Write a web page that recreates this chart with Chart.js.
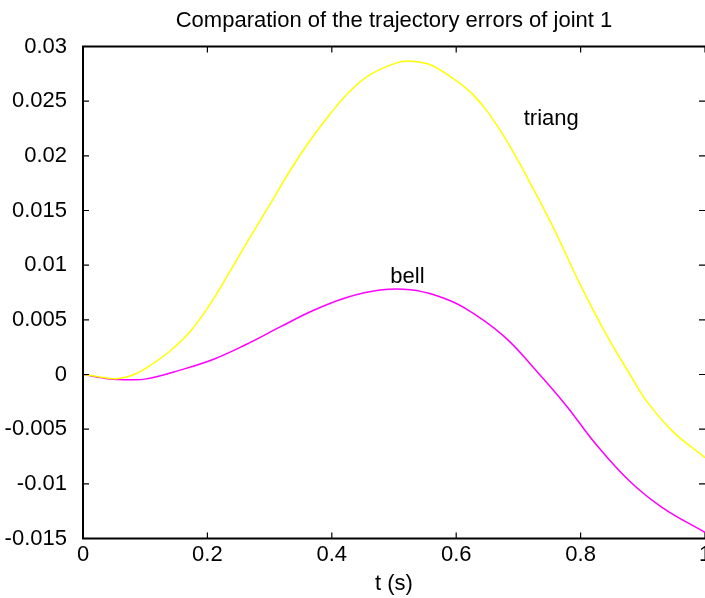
<!DOCTYPE html>
<html>
<head>
<meta charset="utf-8">
<script src="https://cdn.jsdelivr.net/npm/chart.js@4"></script>
<style>
  html, body { margin: 0; padding: 0; background: #fff; }
  canvas { display: block; }
</style>
</head>
<body>
<canvas id="c" width="705" height="598"></canvas>
<script>
// ---- data ----
const titleText = "Comparation of the trajectory errors of joint 1";
const xTitle = "t (s)";

const triangT = [0, 0.025, 0.054, 0.08, 0.102, 0.139, 0.172, 0.204, 0.236, 0.268, 0.301, 0.333, 0.365, 0.397, 0.429, 0.461, 0.504, 0.526, 0.555, 0.584, 0.627, 0.670, 0.713, 0.756, 0.799, 0.841, 0.884, 0.906, 0.948, 1.0];
const triangV = [0, -0.0002, -0.00038, -0.00005, 0.0006, 0.0021, 0.0039, 0.0064, 0.0094, 0.0125, 0.0156, 0.01866, 0.0214, 0.0238, 0.0259, 0.0274, 0.0285, 0.02866, 0.0284, 0.0275, 0.0256, 0.0224, 0.01815, 0.01346, 0.00827, 0.00369, -0.00044, -0.00243, -0.0052, -0.0076];

const bellT = [0, 0.02, 0.043, 0.07, 0.102, 0.156, 0.21, 0.263, 0.317, 0.370, 0.424, 0.478, 0.526, 0.569, 0.612, 0.676, 0.729, 0.777, 0.825, 0.879, 0.932, 1.0];
const bellV = [0, -0.0002, -0.00042, -0.00048, -0.0004, 0.0004, 0.0014, 0.00277, 0.00435, 0.00585, 0.00704, 0.00772, 0.00775, 0.0072, 0.00613, 0.00353, 0.00032, -0.00285, -0.0064, -0.00977, -0.0122, -0.01444];

const seriesNames = ["triang", "bell"];
// label anchor points (data coordinates)
const labelT = [0.7085, 0.494];
const labelV = [0.0228, 0.0084];

const xTicks = [0, 0.2, 0.4, 0.6, 0.8, 1];
const xTickLabels = ["0", "0.2", "0.4", "0.6", "0.8", "1"];
const yTicks = [-0.015, -0.01, -0.005, 0, 0.005, 0.01, 0.015, 0.02, 0.025, 0.03];
const yTickLabels = ["-0.015", "-0.01", "-0.005", "0", "0.005", "0.01", "0.015", "0.02", "0.025", "0.03"];

// ---- chart ----
const FONT = '"Liberation Sans", Arial, Helvetica, sans-serif';
Chart.defaults.font.family = FONT;
Chart.defaults.color = '#000';

const toXY = (ts, vs) => ts.map((t, i) => ({ x: t, y: vs[i] }));

const framePlugin = {
  id: 'frame',
  afterDatasetsDraw(chart) {
    const ctx = chart.ctx;
    const xs = chart.scales.x, ys = chart.scales.y;
    const L = xs.getPixelForValue(0), R = xs.getPixelForValue(1);
    const T = ys.getPixelForValue(0.03), B = ys.getPixelForValue(-0.015);
    ctx.save();
    ctx.strokeStyle = '#000';
    ctx.lineWidth = 2;
    ctx.beginPath();
    ctx.moveTo(R, T); ctx.lineTo(L, T); ctx.lineTo(L, B); ctx.lineTo(R, B);
    ctx.stroke();
    ctx.lineWidth = 1.2;
    const tl = 6;
    ctx.beginPath();
    xTicks.forEach(v => {
      const px = xs.getPixelForValue(v);
      ctx.moveTo(px, B); ctx.lineTo(px, B - tl);
      ctx.moveTo(px, T); ctx.lineTo(px, T + tl);
    });
    yTicks.forEach(v => {
      const py = ys.getPixelForValue(v);
      ctx.moveTo(L, py); ctx.lineTo(L + tl, py);
      ctx.moveTo(R, py); ctx.lineTo(R - tl, py);
    });
    ctx.stroke();
    // series labels
    ctx.fillStyle = '#000';
    ctx.font = '22px ' + FONT;
    ctx.textAlign = 'left';
    ctx.textBaseline = 'alphabetic';
    seriesNames.forEach((n, i) => {
      ctx.fillText(n, xs.getPixelForValue(labelT[i]), ys.getPixelForValue(labelV[i]));
    });
    ctx.restore();
  }
};

new Chart(document.getElementById('c'), {
  type: 'line',
  data: {
    datasets: [
      { label: seriesNames[0], data: toXY(triangT, triangV), borderColor: '#ffff00', borderWidth: 1.5, pointRadius: 0, tension: 0.4, fill: false },
      { label: seriesNames[1], data: toXY(bellT, bellV), borderColor: '#ff00ff', borderWidth: 1.5, pointRadius: 0, tension: 0.4, fill: false }
    ]
  },
  options: {
    responsive: false,
    animation: false,
    devicePixelRatio: 1,
    layout: { padding: 0 },
    plugins: {
      legend: { display: false },
      tooltip: { enabled: false },
      title: {
        display: true,
        text: titleText,
        fullSize: false,
        color: '#000',
        font: { size: 22, weight: 'normal', family: FONT },
        padding: { top: 7.5, bottom: 12.6 }
      }
    },
    scales: {
      x: {
        type: 'linear',
        min: 0, max: 1,
        grid: { display: false },
        border: { display: false },
        afterBuildTicks: s => { s.ticks = xTicks.map(v => ({ value: v })); },
        ticks: {
          maxRotation: 0, autoSkip: false, padding: -5,
          font: { size: 22 }, color: '#000',
          callback: (v) => { const i = xTicks.findIndex(t => Math.abs(t - v) < 1e-9); return i >= 0 ? xTickLabels[i] : ''; }
        },
        title: { display: true, text: xTitle, color: '#000', font: { size: 22 }, padding: { top: 0, bottom: 0.5 } },
        afterFit: s => { s.height = 59.5; s.paddingLeft = 0; s.paddingRight = 0; }
      },
      y: {
        type: 'linear',
        min: -0.015, max: 0.03,
        grid: { display: false },
        border: { display: false },
        afterBuildTicks: s => { s.ticks = yTicks.map(v => ({ value: v })); },
        ticks: {
          autoSkip: false, padding: 8,
          font: { size: 22 }, color: '#000',
          callback: (v) => { const i = yTicks.findIndex(t => Math.abs(t - v) < 1e-9); return i >= 0 ? yTickLabels[i] : ''; }
        },
        afterFit: s => { s.width = 83; }
      }
    }
  },
  plugins: [framePlugin]
});
</script>
</body>
</html>
